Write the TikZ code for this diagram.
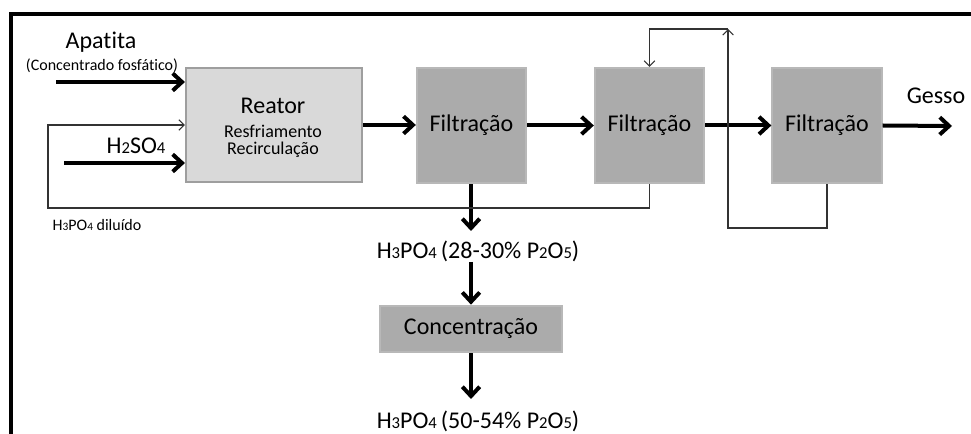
\documentclass[tikz,border=0pt]{standalone}
\usepackage{fontspec}
\setmainfont{Carlito}[RawFeature=-liga]
\usetikzlibrary{arrows.meta}
\newcommand{\sbg}[1]{\raisebox{-0.3pt}{\fontsize{12.5}{12.5}\selectfont #1}}
\newcommand{\ssm}[1]{\raisebox{-0.2pt}{\fontsize{8.5}{8.5}\selectfont #1}}
\begin{document}
\begin{tikzpicture}[x=0.75pt,y=-0.75pt,
  thk/.style={line width=3pt,-{Straight Barb[length=7pt,width=13pt]}},
  thn/.style={line width=0.8pt,draw=black!80,-{Straight Barb[length=4pt,width=8pt]}},
  rbox/.style={draw=black!38,line width=1.6pt,fill=black!15,minimum width=132pt,minimum height=86pt,inner sep=0},
  fbox/.style={draw=black!28,line width=1.5pt,fill=black!33,minimum width=82pt,minimum height=86.5pt,inner sep=0,font=\fontsize{18}{20}\selectfont},
  cbox/.style={draw=black!28,line width=1.5pt,fill=black!33,minimum width=137pt,minimum height=35pt,inner sep=0,font=\fontsize{18}{20}\selectfont},
  big/.style={inner sep=0,font=\fontsize{18}{20}\selectfont},
  small/.style={inner sep=0,font=\fontsize{12}{14}\selectfont},
  mid/.style={inner sep=0,font=\fontsize{13.5}{15}\selectfont}
]
\useasboundingbox (0,0) rectangle (971,434);
% frame
\draw[line width=3pt,line join=miter] (11,445) -- (11,14) -- (980,14);
% boxes
\node[rbox] (R) at (274,125) {};
\node[fbox] (F1) at (471.5,125.5) {Filtração};
\node[fbox] (F2) at (649.5,125.5) {Filtração};
\node[fbox] (F3) at (827,125.5) {Filtração};
\node[cbox] (C) at (471,329) {Concentração};
% texts
\node[big] (tApa) at (101,42) {Apatita};
\node[small] (tCon) at (102,66) {(Concentrado fosfático)};
\node[big] (tReat) at (273,106) {Reator};
\node[mid] (tRes) at (273,131) {Resfriamento};
\node[mid] (tRec) at (273,150) {Recirculação};
\node[big] (tH2) at (136,146) {H\sbg{2}SO\sbg{4}};
\node[small] (tDil) at (97,225) {H\ssm{3}PO\ssm{4} diluído};
\node[big] (tGes) at (936,96) {Gesso};
\node[big] (t1) at (478,251) {H\sbg{3}PO\sbg{4}\,(28-30\% P\sbg{2}O\sbg{5})};
\node[big] (t2) at (478,421) {H\sbg{3}PO\sbg{4}\,(50-54\% P\sbg{2}O\sbg{5})};
% coordinates
\coordinate (aS) at (56,82);
\coordinate (hS) at (64,163);
\coordinate (gE) at (952,126);
\coordinate (d1) at (471,231);
\coordinate (d2) at (471,262);
\coordinate (d3) at (471,399);
\coordinate (rc) at (48,208);
\coordinate (lb) at (728,228);
\coordinate (lt) at (728,29);
% thick flows
\draw[thk] (aS) -- (aS -| R.west);
\draw[thk] (hS) -- (hS -| R.west);
\draw[thk] (R.east) -- (R.east -| F1.west);
\draw[thk] (F1.east) -- (F2.west);
\draw[thk] (F2.east) -- (F3.west);
\draw[thk] (F3.east) -- (gE);
\draw[thk] (F1.south -| d1) -- (d1);
\draw[thk] (d2) -- (d2 |- C.north);
\draw[thk] (C.south -| d3) -- (d3);
% thin recycle lines
\draw[thn] (F2.south) -- (F2.south |- rc) -- (rc) -- (rc |- R.west) -- (R.west);
\draw[thn] (F3.south) -- (F3.south |- lb) -- (lb) -- (lt);
\draw[thn] (lt) -- (lt -| F2.north) -- (F2.north);
\end{tikzpicture}
\end{document}
